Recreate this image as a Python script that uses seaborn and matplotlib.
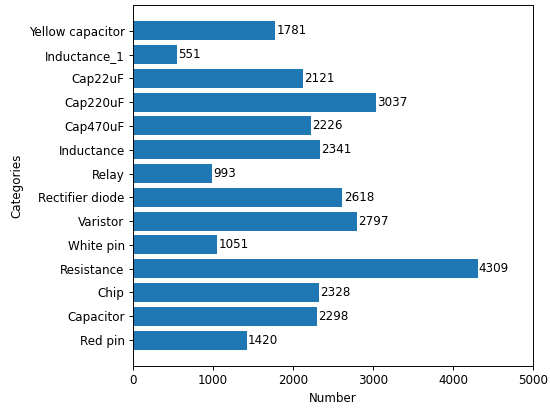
import matplotlib
matplotlib.use("Agg")
import matplotlib.pyplot as plt
import seaborn as sns
import pandas as pd

categories = ["Yellow capacitor", "Inductance_1", "Cap22uF", "Cap220uF", "Cap470uF",
              "Inductance", "Relay", "Rectifier diode", "Varistor", "White pin",
              "Resistance", "Chip", "Capacitor", "Red pin"]
numbers = [1781, 551, 2121, 3037, 2226, 2341, 993, 2618, 2797, 1051, 4309, 2328, 2298, 1420]

df = pd.DataFrame({"Categories": categories, "Number": numbers})

dpi = 550 / 6.4
fig = plt.figure(figsize=(6.4, 408 / dpi), dpi=dpi)
ax = fig.add_axes([0.2418, 0.103, 0.7273, 0.885])
sns.barplot(data=df, x="Number", y="Categories", orient="h", color="#1f77b4",
            saturation=1, width=0.8, ax=ax)
for c in ax.containers:
    ax.bar_label(c, fontsize=10, padding=1)
ax.set_xlim(0, 5000)
n = len(categories)
ax.set_ylim(n - 1 + 0.4 + 0.69, -0.4 - 0.69)
ax.set_xlabel("Number")
ax.set_ylabel("Categories")
fig.savefig("out.png", dpi=dpi)
